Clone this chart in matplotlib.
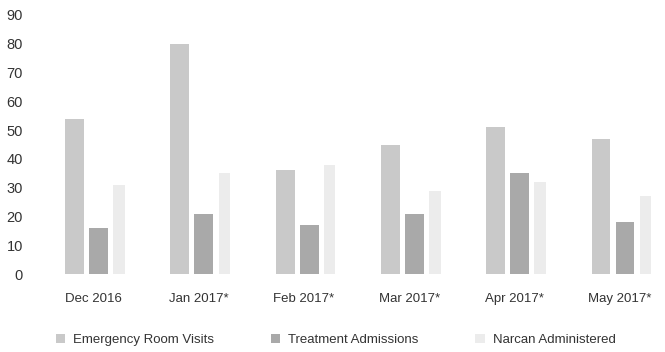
import matplotlib
matplotlib.use("Agg")
import matplotlib.pyplot as plt
import numpy as np

months = ["Dec 2016", "Jan 2017*", "Feb 2017*", "Mar 2017*", "Apr 2017*", "May 2017*"]
er_visits = [54, 80, 36, 45, 51, 47]
treatment = [16, 21, 17, 21, 35, 18]
narcan = [31, 35, 38, 29, 32, 27]
series_names = ["Emergency Room Visits", "Treatment Admissions", "Narcan Administered"]
yticks = [0, 10, 20, 30, 40, 50, 60, 70, 80, 90]

plt.rcParams['font.family'] = ['Liberation Sans', 'DejaVu Sans']

W, H = 665, 352
fig = plt.figure(figsize=(W / 100, H / 100), dpi=100)
left_px, right_px = 35.5, 665
bottom_px, top_px = 274, 15
ax = fig.add_axes([left_px / W, (H - bottom_px) / H, (right_px - left_px) / W, (bottom_px - top_px) / H])

x = np.arange(len(months))
bw = 0.18
off = 0.228
b1 = ax.bar(x - off, er_visits, bw, color="#c9c9c9", edgecolor="none")
b2 = ax.bar(x, treatment, bw, color="#a9a9a9", edgecolor="none")
b3 = ax.bar(x + off * 0.85, narcan, bw * 0.6, color="#ececec", edgecolor="none")

ax.set_xlim(-0.6, 5.38)
ax.set_ylim(0, 90)
ax.set_yticks(yticks)
ax.set_xticks(x - 0.05)
ax.set_xticklabels(months, fontsize=9.5, color="#333333")
ax.tick_params(axis='y', labelsize=10.5, colors="#333333", length=0, pad=9)
ax.tick_params(axis='x', length=0, pad=14)
for s in ax.spines.values():
    s.set_visible(False)

fig.legend([b1, b2, b3], series_names, loc="center", bbox_to_anchor=(0.505, 1 - 340 / H),
           ncol=3, frameon=False, fontsize=9.5, handlelength=0.7, handleheight=0.7,
           columnspacing=4.3, handletextpad=0.6, labelcolor="#333333")

fig.savefig("out.png", dpi=100)
